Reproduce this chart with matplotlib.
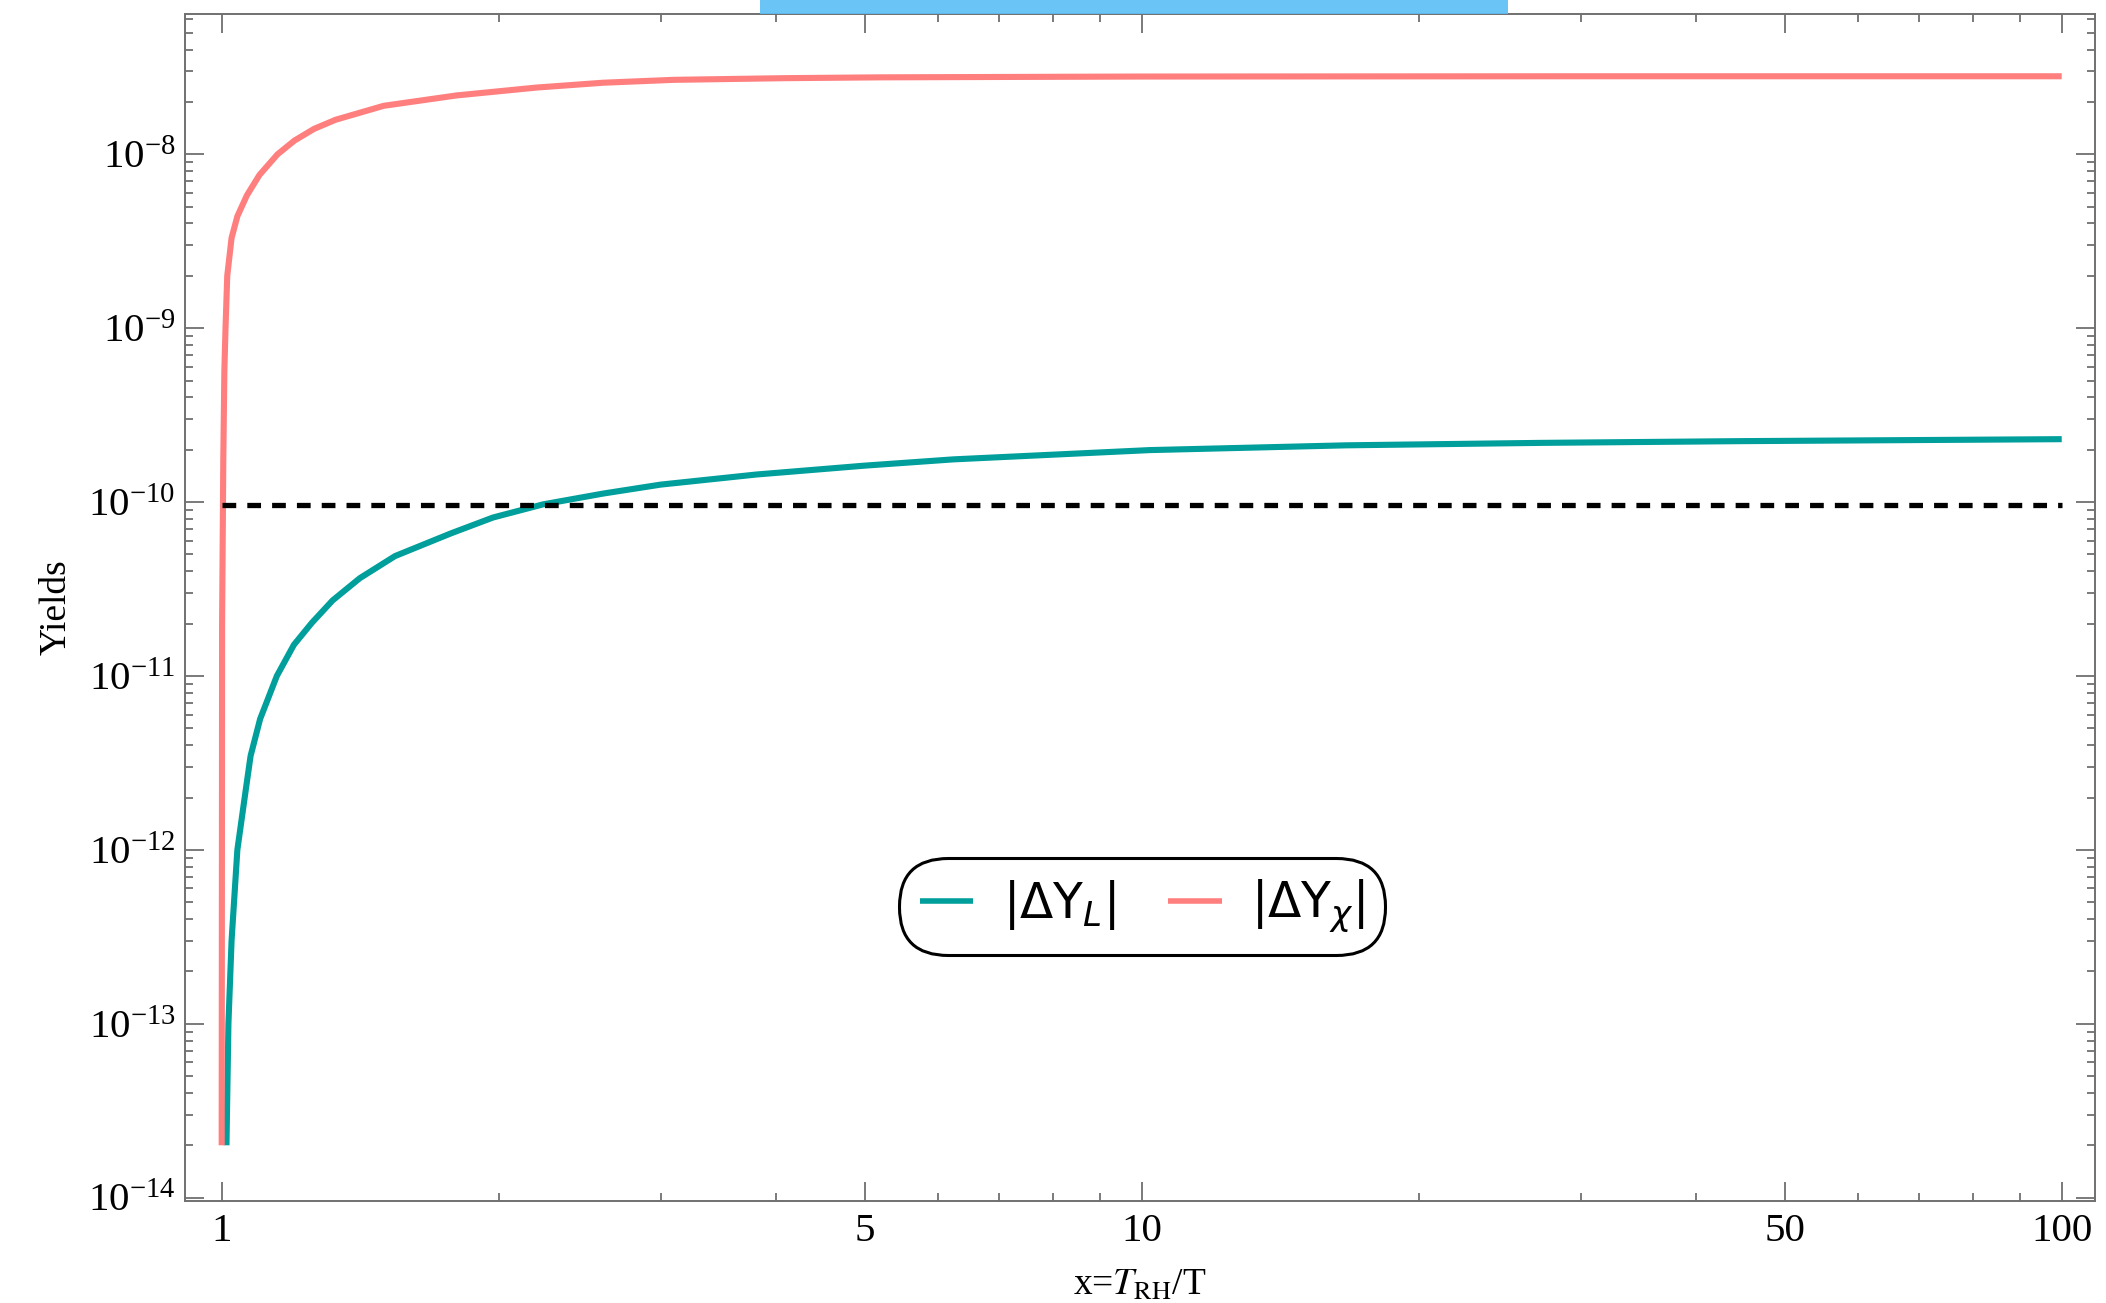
import matplotlib
matplotlib.use("Agg")
import matplotlib.pyplot as plt
from matplotlib.ticker import FixedLocator, FixedFormatter, LogLocator, LogFormatterMathtext, NullFormatter
from matplotlib.font_manager import FontProperties
from matplotlib.patches import Rectangle

# values
red_x = [1.0, 1.001, 1.004, 1.0067, 1.0096, 1.014, 1.025, 1.04, 1.065, 1.099, 1.15,
         1.2, 1.26, 1.33, 1.5, 1.8, 2.2, 2.6, 3.1, 4.1, 5.2, 10, 30, 100]
red_y = [2e-14, 2e-11, 1.75e-10, 5.66e-10, 1e-9, 2.0e-9, 3.3e-9, 4.4e-9, 5.8e-9, 7.6e-9, 1e-8,
         1.2e-8, 1.4e-8, 1.58e-8, 1.9e-8, 2.18e-8, 2.42e-8, 2.58e-8, 2.68e-8, 2.74e-8,
         2.77e-8, 2.8e-8, 2.81e-8, 2.81e-8]

teal_x = [1.012, 1.017, 1.025, 1.040, 1.061, 1.075, 1.101, 1.148, 1.198, 1.253, 1.32,
          1.413, 1.543, 1.774, 1.972, 2.235, 2.6, 3.0, 3.81, 5.0, 6.24, 10.2, 16.7, 27.2,
          44.5, 100]
teal_y = [2e-14, 1e-13, 3e-13, 1e-12, 2.13e-12, 3.47e-12, 5.66e-12, 1e-11, 1.51e-11, 2.02e-11,
          2.72e-11, 3.65e-11, 4.89e-11, 6.6e-11, 8.15e-11, 9.7e-11, 1.12e-10, 1.26e-10,
          1.44e-10, 1.62e-10, 1.76e-10, 1.99e-10, 2.12e-10, 2.19e-10, 2.24e-10, 2.3e-10]

obs_x = [1, 100]
obs_y = 9.6e-11

x_major = [1, 5, 10, 50, 100]
x_major_labels = ["1", "5", "10", "50", "100"]
x_minor = [2, 3, 4, 6, 7, 8, 9, 20, 30, 40, 60, 70, 80, 90]

labels = [r"$|\Delta\mathrm{Y}_L|$", r"$|\Delta\mathrm{Y}_\chi|$"]
teal = "#009f9b"
pink = "#ff7f7f"

plt.rcParams["font.family"] = ["Liberation Serif", "DejaVu Serif"]
plt.rcParams["mathtext.fontset"] = "stix"

fig = plt.figure(figsize=(21.06, 13.03), dpi=100)
ax = fig.add_axes([0.088, 0.0785, 0.9068, 0.9105])

ax.plot(teal_x, teal_y, color=teal, lw=4.4, label=labels[0], solid_capstyle="butt")
ax.plot(red_x, red_y, color=pink, lw=4.4, label=labels[1], solid_capstyle="butt")
ax.plot(obs_x, [obs_y, obs_y], color="black", lw=3.8, dashes=(2.6, 2.1))

ax.set_xscale("log")
ax.set_yscale("log")
ax.set_xlim(0.913, 108.7)
ax.set_ylim(9.6e-15, 6.38e-8)

ax.xaxis.set_major_locator(FixedLocator(x_major))
ax.xaxis.set_major_formatter(FixedFormatter(x_major_labels))
ax.xaxis.set_minor_locator(FixedLocator(x_minor))
ax.xaxis.set_minor_formatter(NullFormatter())
ax.yaxis.set_major_locator(LogLocator(base=10, numticks=20))
ax.yaxis.set_major_formatter(LogFormatterMathtext())
ax.yaxis.set_minor_locator(LogLocator(base=10, subs=range(2, 10), numticks=20))
ax.yaxis.set_minor_formatter(NullFormatter())

spine_col = "#707070"
for s in ax.spines.values():
    s.set_color(spine_col)
    s.set_linewidth(1.4)
ax.tick_params(which="both", direction="in", top=True, right=True, color=spine_col, width=1.3)
ax.tick_params(which="major", length=14, labelsize=29.5)
ax.tick_params(which="minor", length=6)
ax.tick_params(axis="x", pad=9)
ax.tick_params(axis="y", pad=7)

ax.set_xlabel(r"x=$T_{\mathrm{RH}}$/T", fontsize=27, labelpad=13)
ax.set_ylabel("Yields", fontsize=27, labelpad=10)

leg_font = FontProperties(family="DejaVu Sans", size=35, math_fontfamily="dejavusans")
leg = ax.legend(loc="center", bbox_to_anchor=(0.501, 0.248), ncol=2, prop=leg_font,
                frameon=True, fancybox=True, handlelength=1.1, handletextpad=0.6,
                columnspacing=1.1, borderpad=0.42, framealpha=1)
frame = leg.get_frame()
frame.set_boxstyle("round,pad=0,rounding_size=1.0")
frame.set_edgecolor("black")
frame.set_linewidth(2.2)
for line in leg.get_lines():
    line.set_linewidth(4)

# blue scribble band at the top edge of the picture
fig.patches.append(Rectangle((0.361, 0.989), 0.355, 0.011, transform=fig.transFigure,
                             facecolor="#5bbef5", edgecolor="none", alpha=0.9))

fig.savefig("out.png", dpi=100)
